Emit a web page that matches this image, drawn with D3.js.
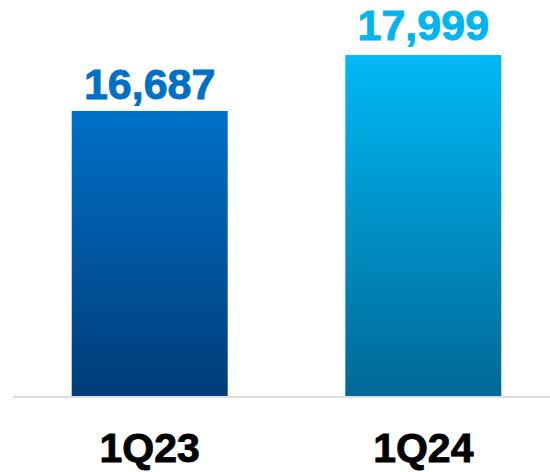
<!DOCTYPE html>
<html>
<head>
<meta charset="utf-8">
<script src="https://cdn.jsdelivr.net/npm/d3@7"></script>
<style>
html,body{margin:0;padding:0;background:#fff;}
svg{display:block;}
</style>
</head>
<body>
<svg id="chart" width="550" height="472"></svg>
<script>
const categories = ["1Q23", "1Q24"];
const values = [16687, 17999];
const valueLabels = ["16,687", "17,999"];
const topColors = ["#0070c8", "#00b9f5"];
const bottomColors = ["#003c78", "#006896"];
const labelColors = ["#0070c4", "#00b4ef"];
const labelGaps = [12, 15];

const svg = d3.select("#chart");
const x = d3.scaleBand().domain(categories).range([17, 556]).paddingInner(0.43).paddingOuter(0.2);
const y = d3.scaleLinear().domain([10000, 18000]).range([396, 55]);

const defs = svg.append("defs");
categories.forEach((c, i) => {
  const g = defs.append("linearGradient").attr("id", "g" + i)
    .attr("x1", 0).attr("y1", 0).attr("x2", 0).attr("y2", 1);
  g.append("stop").attr("offset", "0%").attr("stop-color", topColors[i]);
  g.append("stop").attr("offset", "100%").attr("stop-color", bottomColors[i]);
});

svg.selectAll("rect.bar").data(values).join("rect")
  .attr("class", "bar")
  .attr("x", (d, i) => x(categories[i]))
  .attr("width", x.bandwidth())
  .attr("y", d => y(d))
  .attr("height", d => y.range()[0] - y(d))
  .attr("fill", (d, i) => `url(#g${i})`);

svg.append("line")
  .attr("x1", 13).attr("x2", 550)
  .attr("y1", 397).attr("y2", 397)
  .attr("stroke", "#dcdcdc").attr("stroke-width", 2);

svg.selectAll("text.val").data(values).join("text")
  .attr("class", "val")
  .attr("x", (d, i) => x(categories[i]) + x.bandwidth() / 2)
  .attr("y", (d, i) => y(d) - labelGaps[i])
  .attr("text-anchor", "middle")
  .attr("font-family", "Liberation Sans, Arial, sans-serif")
  .attr("font-weight", "bold")
  .attr("font-size", 43)
  .attr("fill", (d, i) => labelColors[i])
  .attr("stroke", (d, i) => labelColors[i])
  .attr("stroke-width", 0.9)
  .text((d, i) => valueLabels[i]);

svg.selectAll("text.cat").data(categories).join("text")
  .attr("class", "cat")
  .attr("x", d => x(d) + x.bandwidth() / 2)
  .attr("y", 462)
  .attr("text-anchor", "middle")
  .attr("font-family", "Liberation Sans, Arial, sans-serif")
  .attr("font-weight", "bold")
  .attr("font-size", 41)
  .attr("fill", "#000")
  .attr("stroke", "#000")
  .attr("stroke-width", 0.9)
  .text(d => d);
</script>
</body>
</html>
